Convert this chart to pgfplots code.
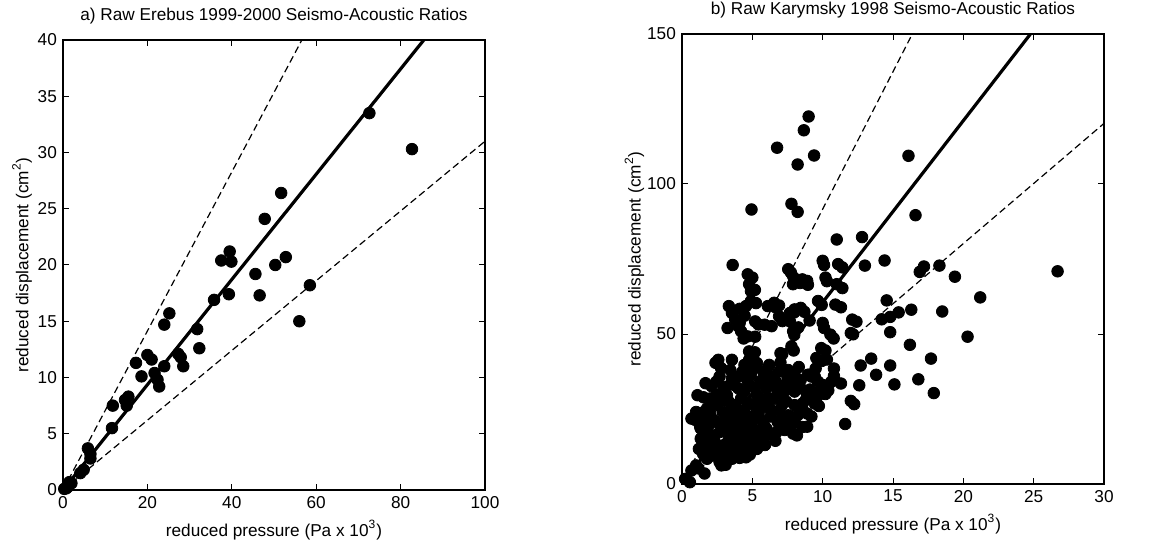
\documentclass[border=0pt]{standalone}
\usepackage{fontspec}
\setmainfont{Liberation Sans}
\usepackage{pgfplots}
\pgfplotsset{compat=1.18}
\begin{document}
\fontsize{8.6}{10.3}\selectfont
\begin{tikzpicture}
\useasboundingbox (0,0) rectangle (580pt,273pt);
\pgfplotsset{myax/.style={scale only axis, width=211pt, height=225pt,
  axis line style={line width=0.8pt}, tick style={line width=0.5pt, black},
  tick align=inside, major tick length=3pt,
  /pgf/number format/assume math mode=true,
  tick label style={font=\fontsize{8.6}{10.3}\selectfont},
  label style={font=\fontsize{8.6}{10.3}\selectfont},
  title style={font=\fontsize{8.6}{10.3}\selectfont, yshift=-1pt},
  xlabel={reduced pressure (Pa x 10\textsuperscript{3})},
  ylabel={reduced displacement (cm\textsuperscript{2})},
  xlabel style={yshift=0pt},
  mk/.style={only marks, mark=*, mark size=2.9pt, black, mark options={fill=black}},
  dsh/.style={black, line width=0.6pt, dash pattern=on 3.5pt off 2pt},
  sld/.style={black, line width=1.6pt}}}
\begin{axis}[myax, at={(31.5pt,28pt)}, anchor=south west,
  xmin=0, xmax=100, ymin=0, ymax=40,
  xtick={0,20,...,100}, ytick={0,5,...,40},
  ylabel style={yshift=-3pt},
  title={a) Raw Erebus 1999-2000 Seismo-Acoustic Ratios}]
\addplot[mk] coordinates {
(72.6,33.5) (82.7,30.3) (51.7,26.4) (47.8,24.1) (39.5,21.2) (37.5,20.4) (39.9,20.3)
(52.8,20.7) (50.3,20.0) (45.6,19.2) (58.5,18.2) (39.3,17.4) (46.6,17.3) (35.8,16.9)
(56.0,15.0) (25.2,15.7) (24.0,14.7) (31.8,14.3) (32.3,12.6) (20.0,12.0) (21.0,11.6)
(17.3,11.3) (27.3,12.1) (27.9,11.8) (28.5,11.0) (24.0,11.0) (21.7,10.4) (18.6,10.1)
(22.4,9.8) (22.8,9.2) (11.8,7.5) (14.7,8.0) (15.5,8.3) (15.1,7.5) (11.6,5.5)
(5.9,3.7) (6.5,3.2) (6.5,2.8) (4.9,1.8) (4.1,1.5) (2.0,0.6) (1.2,0.3) (0.8,0.15)
(0.3,0.1) (1.5,0.7)};
\addplot[sld] coordinates {(0,0) (85.5,40)};
\addplot[dsh] coordinates {(0,0) (56.6,40)};
\addplot[dsh] coordinates {(0,0) (100,31)};
\end{axis}
\begin{axis}[myax, at={(341pt,31pt)}, anchor=south west,
  xmin=0, xmax=30, ymin=0, ymax=150,
  xtick={0,5,...,30}, ytick={0,50,100,150},
  ylabel style={yshift=-4.5pt},
  title={b) Raw Karymsky 1998 Seismo-Acoustic Ratios}]
\addplot[mk] coordinates {
(9.0,122.5) (8.66,117.9) (6.76,112.1) (9.39,109.5) (8.22,106.5) (16.1,109.4)
(4.94,91.5) (7.78,93.4) (8.22,90.7) (16.6,89.6) (11.0,81.5) (12.8,82.3)
(3.6,73.0) (10.1,73.0) (11.4,72.2) (13.0,72.8) (14.4,74.5) (16.9,70.7) (17.2,72.5)
(18.3,72.8) (19.4,69.1) (26.7,70.9) (5.0,68.8) (10.3,67.6) (11.4,65.3) (8.4,67.0)
(8.95,66.4) (7.74,70.5) (7.94,68.8) (5.18,64.7) (5.26,60.3) (9.93,59.7) (11.3,58.9)
(14.55,61.2) (21.2,62.2) (16.3,58.1) (18.5,57.5) (15.4,57.2) (14.8,55.7) (14.2,54.9)
(12.4,54.1) (6.65,58.9) (6.9,59.5) (4.1,58.4) (4.45,56.1) (4.1,53.7) (3.24,52.0)
(5.43,53.2) (6.37,52.6) (7.13,54.3) (7.98,57.2) (8.7,57.4) (8.27,52.2) (9.07,54.5)
(10.1,52.0) (10.78,48.5) (12.16,49.9) (14.8,50.6) (20.3,49.1) (7.98,49.7) (4.38,48.5)
(5.2,49.1) (16.2,46.4) (10.2,44.5) (7.94,44.5) (7.13,43.3) (9.93,41.0) (5.18,43.9)
(5.06,41.6) (17.7,41.8) (13.45,41.8) (12.7,39.5) (14.8,39.5) (13.8,36.4) (16.8,34.9)
(15.1,33.2) (12.6,32.9) (17.9,30.3) (10.8,36.0) (12.0,27.7) (12.24,26.6) (11.6,20.0)
(2.38,40.4) (2.58,41.4) (2.1,32.6) (1.53,28.9) (0.92,21.4) (1.29,19.1) (1.36,23.7)
(1.6,3.5) (1.17,5.2) (0.56,0.6) (3.1,6.4) (8.17,16.2) (8.9,19.1) (9.2,22.5)
(9.73,26.0) (10.2,30.0) (10.4,31.2) (8.83,28.3) (8.2,26.0) (9.44,35.8) (8.95,36.4)
(4.45,9.2) (4.82,9.8) (4.1,8.7) (5.3,12.1) (5.74,15.3) (6.64,14.4) (6.72,17.3)
(7.5,20.2) (7.6,22.5)
(1.67,33.6) (1.1,29.6) (0.67,21.8) (1.0,24.0) (1.33,15.1) (1.2,11.7) (1.0,6.2)
(0.67,4.5) (0.22,1.7) (2.67,7.3) (2.8,6.2) (4.0,9.5) (4.55,8.9) (4.4,12.3)
(5.1,14.0) (5.4,16.2) (6.44,16.2) (6.8,20.7) (7.9,16.8) (8.55,19.0) (8.9,23.5)
(9.44,26.8) (9.78,30.8) (10.0,33.0) (9.2,35.8) (8.44,34.7) (7.55,38.0) (6.2,39.7)
(5.33,40.3) (4.44,39.7) (3.55,41.4) (2.78,38.6) (2.44,34.1) (2.0,28.5) (1.78,25.2)
(1.9,19.6) (2.2,16.2) (2.67,11.7) (3.33,15.1) (3.55,20.7) (3.78,26.3) (4.0,31.9)
(4.67,34.1) (5.33,29.6) (6.0,31.9) (6.67,34.1) (7.1,29.6) (6.22,25.2) (5.55,21.8)
(4.9,19.6) (4.44,24.0) (2.89,24.0) (2.89,30.8) (3.55,35.2) (7.55,22.9) (8.0,26.3)
(8.0,30.8) (8.9,29.6) (6.44,28.5) (5.1,26.3) (4.2,28.5) (3.33,27.4) (2.44,20.7)
(2.44,26.3) (3.1,18.5) (4.0,16.8) (4.2,13.4) (3.33,11.7) (3.55,8.4) (2.0,11.7)
(1.78,8.4) (2.2,9.5) (1.33,18.5) (1.67,14.0) (6.0,18.5) (7.1,21.8) (5.77,15.1)
(4.9,16.8) (5.33,11.7) (4.77,11.2) (4.0,11.7) (3.1,32.4) (4.9,36.3) (5.77,37.5)
(6.89,37.5) (8.0,36.4) (8.44,31.9) (7.33,33.0) (5.55,34.1) (4.44,30.8) (5.77,27.4)
(7.1,26.3) (8.22,22.9) (4.67,20.7) (3.78,22.9) (3.1,21.8) (2.67,17.3) (2.0,23.5)
(2.44,29.6) (2.67,35.8) (3.44,38.0) (4.0,35.8) (9.0,36.4) (9.67,34.1)
(3.33,59.3) (3.55,57.0) (3.78,54.8) (4.0,52.6) (4.2,50.9) (4.67,49.2) (4.55,59.3)
(4.9,61.0) (4.9,64.3) (4.77,66.6) (4.67,69.9) (5.2,54.2) (5.87,53.1) (6.1,59.3)
(6.55,60.4) (6.9,55.9) (7.67,57.0) (8.0,58.2) (8.44,58.7) (7.67,54.2) (7.9,50.9)
(7.78,45.9) (7.0,43.6) (4.77,44.2) (4.77,41.4) (7.55,71.6) (8.0,68.2) (7.89,66.6)
(8.55,68.2) (8.9,67.7) (10.0,74.4) (10.2,68.8) (11.1,73.3) (11.0,66.6) (10.9,59.8)
(12.1,54.8) (12.0,50.3) (9.67,61.0) (10.0,53.7) (10.55,49.8) (9.9,45.3) (9.55,42.0)
(1.5,10.0) (2.5,13.0) (3.0,9.5) (3.8,13.5) (4.6,15.0) (5.2,18.0) (5.8,20.0)
(6.3,22.5) (6.9,24.5) (7.4,27.5) (7.8,32.5) (8.6,27.0) (9.1,31.5) (9.5,38.5)
(8.3,39.0) (7.0,40.5) (6.5,36.0) (6.0,28.5) (5.5,24.5) (5.0,22.5) (4.3,18.5)
(3.6,17.5) (3.0,13.0) (2.3,14.5) (1.8,17.5) (1.5,21.0) (2.2,21.5) (2.7,27.5)
(3.2,29.5) (3.7,33.0) (4.3,37.5) (5.0,38.0) (5.8,35.5) (6.3,33.0) (6.8,31.0)
(7.5,35.5) (8.2,33.5) (7.3,31.0) (5.2,32.0) (4.7,27.0) (4.1,22.0) (3.5,24.5)
(2.9,20.0) (3.9,19.5) (5.9,13.0) (7.3,18.0) (8.0,20.5) (8.6,24.5) (9.6,29.0)
(10.6,34.0) (10.8,38.5) (10.3,41.5) (11.3,33.5)};
\addplot[sld] coordinates {(0,0) (24.77,150)};
\addplot[dsh] coordinates {(0,0) (16.37,150)};
\addplot[dsh] coordinates {(0,0) (30,120.2)};
\end{axis}
\end{tikzpicture}
\end{document}
